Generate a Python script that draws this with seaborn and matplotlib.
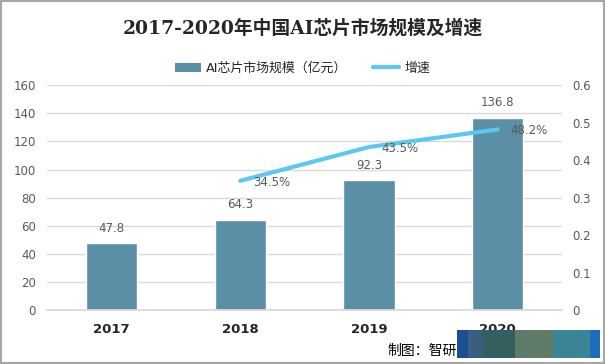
import numpy as np
import pandas as pd
import matplotlib
matplotlib.use('Agg')
import matplotlib.pyplot as plt
import seaborn as sns
from matplotlib.patches import Rectangle
from matplotlib.lines import Line2D
from matplotlib.patches import Patch

# data
years = ['2017', '2018', '2019', '2020']
market_size = [47.8, 64.3, 92.3, 136.8]
growth = [np.nan, 0.345, 0.435, 0.482]
growth_labels = ['', '34.5%', '43.5%', '48.2%']
left_ticks = [0, 20, 40, 60, 80, 100, 120, 140, 160]
right_ticks = [0, 0.1, 0.2, 0.3, 0.4, 0.5, 0.6]
right_tick_labels = ['0', '0.1', '0.2', '0.3', '0.4', '0.5', '0.6']

bar_color = '#5B8FA6'
line_color = '#5BC8F2'
grid_color = '#D9D9D9'
text_gray = '#595959'

sns.set_theme(style='white')
plt.rcParams['font.family'] = ['DejaVu Sans', 'Noto Sans CJK SC']

df = pd.DataFrame({'year': years, 'size': market_size, 'growth': growth})
pos = np.arange(len(years))

fig = plt.figure(figsize=(6.05, 3.64), dpi=100)
ax = fig.add_axes([0.078, 0.148, 0.851, 0.618])

sns.barplot(data=df, x='year', y='size', color=bar_color, width=0.4,
            saturation=1, ax=ax, zorder=2)
ax.set_ylim(0, 160)
ax.set_xlim(-0.5, len(years) - 0.5)
ax.set_yticks(left_ticks)
ax.grid(axis='y', color=grid_color, linewidth=1, zorder=0)
ax.set_axisbelow(True)
for s in ['left', 'right', 'top']:
    ax.spines[s].set_visible(False)
ax.spines['bottom'].set_color(grid_color)
ax.set_xlabel('')
ax.set_ylabel('')
ax.tick_params(axis='y', length=0, colors=text_gray, labelsize=8.5, pad=8)
ax.tick_params(axis='x', length=0, labelsize=9.5, pad=9)
for lab in ax.get_xticklabels():
    lab.set_fontweight('bold')
    lab.set_color('#262626')

for x, v in zip(pos, market_size):
    ax.annotate(f'{v}', (x, v), xytext=(0, 6), textcoords='offset points',
                ha='center', va='bottom', fontsize=8.5, color=text_gray)

ax2 = ax.twinx()
sns.lineplot(x=pos[1:], y=growth[1:], color=line_color, linewidth=3, ax=ax2)
ax2.set_ylim(0, 0.6)
ax2.set_yticks(right_ticks)
ax2.set_yticklabels(right_tick_labels)
ax2.tick_params(axis='y', length=0, colors=text_gray, labelsize=8.5, pad=7)
for s in ['left', 'right', 'top', 'bottom']:
    ax2.spines[s].set_visible(False)
ax2.set_ylabel('')
for x, g, t in zip(pos, growth, growth_labels):
    if t:
        ax2.annotate(t, (x, g), xytext=(9, -1), textcoords='offset points',
                     ha='left', va='center', fontsize=8.5, color=text_gray)

fig.text(0.5, 0.923, '2017-2020年中国AI芯片市场规模及增速', ha='center', va='center',
         fontsize=13.5, fontweight='bold', color='#262626',
         family=['DejaVu Serif', 'Noto Sans CJK SC'])

handles = [Patch(facecolor=bar_color, edgecolor='none'),
           Line2D([0], [0], color=line_color, linewidth=3)]
fig.legend(handles, ['AI芯片市场规模（亿元）', '增速'], loc='center',
           bbox_to_anchor=(0.5, 0.813), ncol=2, frameon=False, fontsize=9.3,
           handlelength=2, columnspacing=2, handletextpad=0.4)

fig.text(0.641, 0.035, '制图：智研', ha='left', va='center', fontsize=10,
         color='black', family=['Noto Sans CJK SC'])
# watermark block in the corner
blocks = [(457, 11, '#1D4E94'), (468, 15, '#3A5E80'), (483, 32, '#355E5E'),
          (515, 38, '#5F7A66'), (553, 37, '#3A8496'), (590, 10, '#1A6FB8')]
for bx, bw, bc in blocks:
    fig.add_artist(Rectangle((bx / 605, 6 / 364), bw / 605, 28 / 364,
                             transform=fig.transFigure, facecolor=bc,
                             edgecolor='none', zorder=5))

fig.add_artist(Rectangle((0.001, 0.002), 0.997, 0.995, transform=fig.transFigure,
                         fill=False, edgecolor='#A6A6A6', linewidth=1.5))

fig.savefig('out.png', dpi=100)
